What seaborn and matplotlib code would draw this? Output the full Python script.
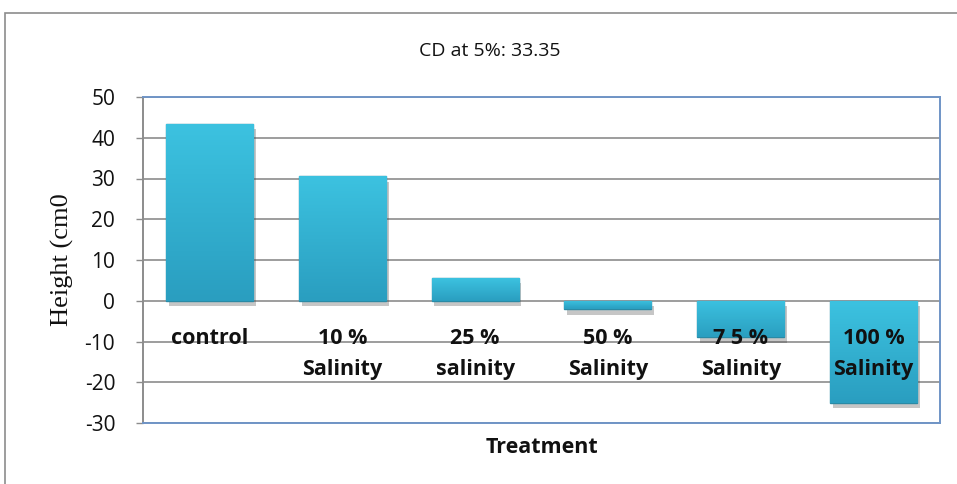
import matplotlib
matplotlib.use("Agg")
import matplotlib.pyplot as plt
import matplotlib.patheffects as pe
from matplotlib.patches import Rectangle
from matplotlib.colors import LinearSegmentedColormap
import numpy as np
import seaborn as sns
import pandas as pd

treatments = ["control", "10 %\nSalinity", "25 %\nsalinity", "50 %\nSalinity",
              "7 5 %\nSalinity", "100 %\nSalinity"]
heights = [43.4, 30.6, 5.6, -2.1, -9.0, -25.0]
y_ticks = [-30, -20, -10, 0, 10, 20, 30, 40, 50]

df = pd.DataFrame({"Treatment": treatments, "Height": heights})

sns.set_theme(style="white")
plt.rcParams["font.family"] = ["Open Sans", "DejaVu Sans"]

fig = plt.figure(figsize=(9.57, 4.84), dpi=100)
ax = fig.add_axes([143 / 957, 1 - 423 / 484, (940 - 143) / 957, (423 - 97) / 484])

# outer chart frame
fig.patches.append(Rectangle((5 / 957, -0.05), 1.0, 1 - 13 / 484 + 0.05,
                             transform=fig.transFigure, fill=False,
                             edgecolor="#8c8c8c", linewidth=1.2, zorder=0))

sns.barplot(data=df, x="Treatment", y="Height", ax=ax, color="#31B4D4",
            width=0.655, saturation=1, edgecolor="#2a8aa5", linewidth=1.0,
            zorder=3)

# soft shadow and a gentle vertical shading on every bar
shade = LinearSegmentedColormap.from_list("bar_shade", ["#2a9ec0", "#3cc2e0"])
grad = np.linspace(0, 1, 64).reshape(-1, 1)
for p in ax.patches:
    p.set_path_effects([pe.SimplePatchShadow(offset=(2, -4), shadow_rgbFace="#444444",
                                             alpha=0.3), pe.Normal()])
    x0, y0 = p.get_x(), p.get_y()
    w, h = p.get_width(), p.get_height()
    lo, hi = min(y0, y0 + h), max(y0, y0 + h)
    im = ax.imshow(grad, cmap=shade, extent=(x0, x0 + w, lo, hi), origin="lower",
                   aspect="auto", zorder=3.5, interpolation="bicubic")
    im.set_clip_path(p)

ax.set_xlim(-0.5, len(treatments) - 0.5)
ax.set_ylim(-30, 50)
ax.set_yticks(y_ticks)
ax.set_yticklabels([str(t) for t in y_ticks], fontsize=15, color="#111111")
ax.tick_params(axis="y", which="both", left=True, length=5, width=1.0,
               color="#8c8c8c", pad=15)
ax.set_xticks([])
ax.yaxis.grid(True, color="#8c8c8c", linewidth=1.2, zorder=0)
ax.set_axisbelow(True)

for side in ["top", "right", "bottom"]:
    ax.spines[side].set_color("#6f94c6")
    ax.spines[side].set_linewidth(1.4)
ax.spines["left"].set_color("#8c8c8c")
ax.spines["left"].set_linewidth(1.4)

for i, name in enumerate(treatments):
    ax.text(i, -6.6, name, ha="center", va="top", fontsize=15.5, fontweight="bold",
            linespacing=1.62, color="#111111", zorder=5)

ax.set_xlabel("Treatment", fontsize=15.5, fontweight="bold", labelpad=10, color="#111111")
ax.set_ylabel("Height (cm0", fontsize=19, family=["Liberation Serif", "DejaVu Serif"],
              color="#111111")
ax.yaxis.set_label_coords(-0.086, 0.5)

fig.text(490 / 957, 1 - 51 / 484, "CD at 5%: 33.35", ha="center", va="center",
         fontsize=14, color="#111111")

fig.savefig("out.png", dpi=100)
